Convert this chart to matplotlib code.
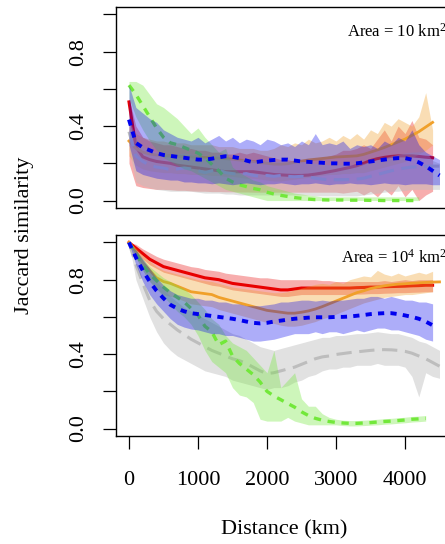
import numpy as np
import matplotlib
matplotlib.use("Agg")
import matplotlib.pyplot as plt

plt.rcParams['font.family'] = ['Liberation Serif', 'DejaVu Serif']
plt.rcParams['mathtext.fontset'] = 'custom'
plt.rcParams['mathtext.rm'] = 'Liberation Serif'
plt.rcParams['mathtext.default'] = 'regular'

nan = np.nan
distance = np.arange(0, 4600, 100)

# ---- top panel: Area = 10 km2 ----
t_red = [0.53, 0.29, 0.235, 0.22, 0.21, 0.205, 0.20, 0.19, 0.185, 0.18, 0.175, 0.17, 0.165, 0.16, 0.155, 0.155,
         0.155, 0.155, 0.155, 0.15, 0.145, 0.14, 0.138, 0.136, 0.135, 0.135, 0.137, 0.142, 0.148, 0.155, 0.162,
         0.17, 0.178, 0.187, 0.20, 0.215, 0.225, 0.232, 0.237, 0.24, 0.24, 0.24, 0.237, 0.233, 0.23, nan]
t_red_hi = [0.55, 0.40, 0.34, 0.32, 0.31, 0.30, 0.30, 0.29, 0.28, 0.28, 0.27, 0.27, 0.26, 0.26, 0.25, 0.25, 0.26,
            0.25, 0.26, 0.25, 0.24, 0.23, 0.22, 0.22, 0.21, 0.21, 0.22, 0.22, 0.23, 0.24, 0.25, 0.27, 0.27, 0.28,
            0.30, 0.28, 0.33, 0.38, 0.32, 0.40, 0.36, 0.43, 0.34, 0.33, 0.30, nan]
t_red_lo = [0.20, 0.08, 0.07, 0.065, 0.06, 0.06, 0.058, 0.055, 0.055, 0.052, 0.05, 0.05, 0.048, 0.048, 0.047,
            0.047, 0.046, 0.046, 0.045, 0.045, 0.045, 0.045, 0.045, 0.045, 0.045, 0.045, 0.045, 0.045, 0.045,
            0.045, 0.045, 0.04, 0.045, 0.05, 0.03, 0.05, 0.02, 0.06, 0.03, 0.08, 0.02, 0.06, 0.0, 0.03, 0.05, nan]

t_orange = [0.32, 0.28, 0.26, 0.25, 0.245, 0.24, 0.24, 0.238, 0.236, 0.235, 0.233, 0.232, 0.23, 0.228, 0.225,
            0.222, 0.218, 0.213, 0.21, 0.205, 0.20, 0.196, 0.195, 0.198, 0.205, 0.212, 0.218, 0.222, 0.226, 0.23,
            0.234, 0.236, 0.238, 0.24, 0.248, 0.26, 0.272, 0.285, 0.30, 0.315, 0.33, 0.35, 0.37, 0.395, 0.42, nan]
t_orange_hi = [0.40, 0.36, 0.34, 0.33, 0.32, 0.32, 0.31, 0.31, 0.31, 0.30, 0.30, 0.30, 0.30, 0.29, 0.29, 0.29,
               0.28, 0.28, 0.28, 0.27, 0.27, 0.28, 0.30, 0.29, 0.31, 0.30, 0.33, 0.31, 0.32, 0.34, 0.32, 0.35,
               0.33, 0.36, 0.33, 0.38, 0.36, 0.42, 0.40, 0.44, 0.42, 0.40, 0.45, 0.58, 0.38, nan]
t_orange_lo = [0.24, 0.19, 0.17, 0.16, 0.155, 0.15, 0.15, 0.145, 0.145, 0.14, 0.14, 0.14, 0.135, 0.135, 0.13,
               0.13, 0.125, 0.12, 0.12, 0.115, 0.11, 0.105, 0.105, 0.11, 0.115, 0.12, 0.125, 0.13, 0.135, 0.14,
               0.14, 0.145, 0.145, 0.15, 0.15, 0.16, 0.17, 0.18, 0.19, 0.20, 0.21, 0.23, 0.25, 0.27, 0.30, nan]

t_grey = [0.37, 0.24, 0.21, 0.19, 0.18, 0.175, 0.165, 0.17, 0.175, 0.17, 0.16, 0.15, 0.16, 0.165, 0.15, 0.145,
          0.14, 0.145, 0.135, 0.13, 0.135, 0.13, 0.135, 0.13, 0.128, 0.13, 0.128, 0.12, 0.115, 0.112, 0.112,
          0.112, 0.113, 0.115, 0.12, 0.13, 0.14, 0.15, 0.16, 0.168, 0.175, 0.18, 0.182, 0.184, 0.185, 0.185]
t_grey_hi = [0.45, 0.33, 0.29, 0.27, 0.26, 0.255, 0.245, 0.25, 0.255, 0.25, 0.24, 0.23, 0.24, 0.245, 0.23, 0.225,
             0.22, 0.225, 0.215, 0.21, 0.215, 0.21, 0.215, 0.21, 0.208, 0.21, 0.208, 0.20, 0.195, 0.192, 0.192,
             0.192, 0.193, 0.195, 0.20, 0.21, 0.22, 0.23, 0.24, 0.248, 0.255, 0.26, 0.262, 0.264, 0.215, 0.20]
t_grey_lo = [0.28, 0.10, 0.08, 0.07, 0.06, 0.055, 0.05, 0.05, 0.05, 0.05, 0.045, 0.04, 0.04, 0.04, 0.035, 0.035,
             0.03, 0.03, 0.03, 0.03, 0.03, 0.03, 0.03, 0.03, 0.03, 0.03, 0.03, 0.025, 0.025, 0.025, 0.025, 0.025,
             0.025, 0.025, 0.03, 0.035, 0.04, 0.045, 0.05, 0.05, 0.055, 0.06, 0.06, 0.06, 0.06, 0.06]

t_green = [0.62, 0.57, 0.51, 0.45, 0.39, 0.34, 0.31, 0.30, 0.285, 0.27, 0.255, 0.23, 0.195, 0.16, 0.12, 0.10,
           0.085, 0.075, 0.065, 0.058, 0.045, 0.035, 0.028, 0.022, 0.016, 0.012, 0.008, 0.005, 0.004, 0.003,
           0.003, 0.003, 0.002, 0.002, 0.002, 0.001, 0.001, 0.0, 0.0, 0.0, 0.0, 0.0, 0.0, nan, nan, nan]
t_green_hi = [0.64, 0.64, 0.62, 0.57, 0.52, 0.50, 0.47, 0.44, 0.40, 0.36, 0.39, 0.34, 0.30, 0.26, 0.28, 0.18,
              0.15, 0.13, 0.11, 0.10, 0.08, 0.07, 0.06, 0.05, 0.04, 0.035, 0.03, 0.025, 0.02, 0.02, 0.02, 0.02,
              0.02, 0.02, 0.02, 0.02, 0.02, 0.02, 0.02, 0.02, 0.02, 0.02, 0.02, nan, nan, nan]
t_green_lo = [0.55, 0.45, 0.38, 0.32, 0.27, 0.23, 0.21, 0.19, 0.17, 0.16, 0.14, 0.12, 0.10, 0.08, 0.06, 0.05,
              0.04, 0.03, 0.02, 0.01, 0.0, 0.0, 0.0, 0.0, 0.0, 0.0, 0.0, 0.0, 0.0, 0.0, 0.0, 0.0, 0.0, 0.0, 0.0,
              0.0, 0.0, 0.0, 0.0, 0.0, 0.0, 0.0, 0.0, nan, nan, nan]

t_blue = [0.435, 0.31, 0.285, 0.27, 0.255, 0.245, 0.24, 0.235, 0.23, 0.225, 0.22, 0.22, 0.225, 0.232, 0.238,
          0.235, 0.228, 0.215, 0.205, 0.21, 0.215, 0.218, 0.22, 0.22, 0.215, 0.21, 0.208, 0.205, 0.203, 0.20,
          0.20, 0.198, 0.198, 0.20, 0.205, 0.21, 0.215, 0.22, 0.225, 0.228, 0.228, 0.22, 0.205, 0.185, 0.16, 0.135]
t_blue_hi = [0.62, 0.50, 0.47, 0.44, 0.42, 0.38, 0.36, 0.34, 0.33, 0.32, 0.34, 0.31, 0.33, 0.35, 0.32, 0.34,
             0.31, 0.33, 0.32, 0.30, 0.33, 0.32, 0.30, 0.31, 0.29, 0.32, 0.30, 0.36, 0.30, 0.31, 0.30, 0.32,
             0.28, 0.30, 0.29, 0.30, 0.28, 0.32, 0.30, 0.34, 0.32, 0.38, 0.30, 0.26, 0.24, 0.22]
t_blue_lo = [0.30, 0.16, 0.14, 0.13, 0.12, 0.115, 0.11, 0.11, 0.10, 0.10, 0.095, 0.095, 0.09, 0.095, 0.09, 0.085,
             0.09, 0.095, 0.09, 0.085, 0.09, 0.09, 0.095, 0.09, 0.085, 0.09, 0.09, 0.095, 0.09, 0.085, 0.09,
             0.09, 0.095, 0.09, 0.09, 0.085, 0.09, 0.095, 0.09, 0.09, 0.085, 0.09, 0.09, 0.09, 0.085, 0.085]

# ---- bottom panel: Area = 10^4 km2 ----
b_red = [1.0, 0.97, 0.94, 0.91, 0.89, 0.87, 0.86, 0.85, 0.84, 0.83, 0.82, 0.81, 0.805, 0.80, 0.79, 0.78, 0.775,
         0.77, 0.765, 0.76, 0.755, 0.75, 0.745, 0.745, 0.75, 0.755, 0.755, 0.755, 0.755, 0.755, 0.755, 0.755,
         0.755, 0.757, 0.758, 0.76, 0.76, 0.762, 0.763, 0.764, 0.765, 0.767, 0.768, 0.77, 0.77, nan]
b_red_hi = [1.0, 0.99, 0.965, 0.945, 0.925, 0.91, 0.90, 0.89, 0.88, 0.87, 0.865, 0.855, 0.85, 0.845, 0.835, 0.83,
            0.825, 0.82, 0.815, 0.81, 0.81, 0.805, 0.80, 0.80, 0.80, 0.80, 0.80, 0.80, 0.795, 0.795, 0.79, 0.79,
            0.79, 0.79, 0.79, 0.79, 0.79, 0.795, 0.79, 0.795, 0.80, 0.795, 0.80, 0.80, 0.80, nan]
b_red_lo = [1.0, 0.95, 0.91, 0.88, 0.86, 0.84, 0.83, 0.82, 0.81, 0.80, 0.79, 0.78, 0.77, 0.765, 0.755, 0.745,
            0.74, 0.735, 0.73, 0.725, 0.72, 0.715, 0.71, 0.71, 0.715, 0.72, 0.72, 0.72, 0.72, 0.72, 0.72, 0.72,
            0.72, 0.722, 0.723, 0.725, 0.725, 0.727, 0.728, 0.73, 0.73, 0.732, 0.733, 0.735, 0.735, nan]

b_orange = [1.0, 0.95, 0.89, 0.85, 0.81, 0.79, 0.78, 0.765, 0.75, 0.735, 0.73, 0.725, 0.72, 0.705, 0.695, 0.685,
            0.675, 0.665, 0.655, 0.645, 0.635, 0.63, 0.625, 0.62, 0.62, 0.625, 0.632, 0.642, 0.655, 0.67, 0.685,
            0.70, 0.715, 0.73, 0.74, 0.752, 0.76, 0.767, 0.772, 0.776, 0.778, 0.781, 0.783, 0.785, 0.787, 0.788]
b_orange_hi = [1.0, 0.97, 0.93, 0.90, 0.87, 0.85, 0.84, 0.83, 0.82, 0.81, 0.80, 0.795, 0.79, 0.78, 0.77, 0.76,
               0.755, 0.75, 0.745, 0.74, 0.735, 0.73, 0.73, 0.735, 0.745, 0.755, 0.765, 0.775, 0.78, 0.775, 0.79,
               0.78, 0.80, 0.81, 0.82, 0.815, 0.85, 0.83, 0.82, 0.835, 0.82, 0.83, 0.84, 0.83, 0.845, nan]
b_orange_lo = [1.0, 0.92, 0.85, 0.79, 0.75, 0.72, 0.71, 0.70, 0.685, 0.67, 0.665, 0.66, 0.655, 0.64, 0.63, 0.62,
               0.61, 0.60, 0.59, 0.58, 0.57, 0.565, 0.555, 0.55, 0.55, 0.555, 0.565, 0.575, 0.59, 0.60, 0.615,
               0.63, 0.645, 0.66, 0.675, 0.685, 0.695, 0.705, 0.71, 0.715, 0.72, 0.72, 0.725, 0.73, 0.735, nan]

b_grey = [1.0, 0.88, 0.78, 0.69, 0.63, 0.59, 0.56, 0.53, 0.505, 0.48, 0.46, 0.44, 0.42, 0.405, 0.39, 0.375,
          0.365, 0.35, 0.33, 0.31, 0.295, 0.30, 0.31, 0.32, 0.33, 0.345, 0.36, 0.375, 0.385, 0.39, 0.398, 0.403,
          0.408, 0.412, 0.416, 0.42, 0.423, 0.424, 0.423, 0.42, 0.415, 0.405, 0.39, 0.375, 0.355, 0.335]
b_grey_hi = [1.0, 0.95, 0.90, 0.84, 0.79, 0.75, 0.71, 0.68, 0.65, 0.63, 0.61, 0.59, 0.57, 0.55, 0.53, 0.51, 0.50,
             0.48, 0.46, 0.44, 0.43, 0.42, 0.43, 0.44, 0.45, 0.46, 0.47, 0.48, 0.49, 0.49, 0.50, 0.50, 0.505,
             0.51, 0.51, 0.515, 0.52, 0.515, 0.51, 0.51, 0.50, 0.49, 0.47, 0.46, 0.44, 0.42]
b_grey_lo = [1.0, 0.80, 0.70, 0.60, 0.52, 0.46, 0.42, 0.39, 0.37, 0.35, 0.33, 0.31, 0.30, 0.29, 0.28, 0.26, 0.25,
             0.24, 0.23, 0.22, 0.21, 0.22, 0.22, 0.23, 0.25, 0.26, 0.28, 0.29, 0.31, 0.32, 0.32, 0.33, 0.33,
             0.34, 0.34, 0.34, 0.35, 0.34, 0.34, 0.34, 0.33, 0.28, 0.17, 0.30, 0.28, 0.27]

b_green = [1.0, 0.94, 0.88, 0.83, 0.795, 0.76, 0.73, 0.705, 0.68, 0.645, 0.61, 0.55, 0.52, 0.45, 0.47, 0.39,
           0.35, 0.32, 0.29, 0.25, 0.20, 0.175, 0.155, 0.135, 0.115, 0.09, 0.07, 0.055, 0.045, 0.038, 0.033,
           0.03, 0.028, 0.028, 0.03, 0.032, 0.035, 0.038, 0.04, 0.043, 0.046, 0.05, 0.052, 0.055, nan, nan]
b_green_hi = [1.0, 0.96, 0.91, 0.87, 0.84, 0.81, 0.79, 0.77, 0.75, 0.72, 0.68, 0.64, 0.59, 0.56, 0.50, 0.46,
              0.44, 0.42, 0.38, 0.34, 0.30, 0.42, 0.22, 0.26, 0.30, 0.16, 0.12, 0.12, 0.08, 0.06, 0.05, 0.045,
              0.043, 0.043, 0.045, 0.047, 0.05, 0.053, 0.055, 0.058, 0.061, 0.065, 0.067, 0.07, nan, nan]
b_green_lo = [1.0, 0.92, 0.85, 0.79, 0.75, 0.71, 0.67, 0.63, 0.60, 0.56, 0.50, 0.42, 0.36, 0.33, 0.30, 0.22,
              0.18, 0.17, 0.14, 0.05, 0.04, 0.04, 0.04, 0.06, 0.04, 0.03, 0.02, 0.02, 0.02, 0.02, 0.02, 0.016,
              0.014, 0.014, 0.016, 0.018, 0.02, 0.023, 0.025, 0.028, 0.031, 0.035, 0.037, 0.04, nan, nan]

b_blue = [1.0, 0.92, 0.85, 0.79, 0.74, 0.70, 0.665, 0.645, 0.63, 0.62, 0.615, 0.61, 0.605, 0.60, 0.595, 0.59,
          0.583, 0.575, 0.568, 0.565, 0.568, 0.575, 0.58, 0.585, 0.59, 0.593, 0.596, 0.598, 0.598, 0.598, 0.60,
          0.60, 0.602, 0.606, 0.61, 0.615, 0.618, 0.62, 0.62, 0.615, 0.608, 0.60, 0.59, 0.575, 0.555, nan]
b_blue_hi = [1.0, 0.96, 0.91, 0.86, 0.81, 0.77, 0.74, 0.72, 0.71, 0.70, 0.70, 0.69, 0.69, 0.68, 0.68, 0.67, 0.67,
             0.66, 0.66, 0.66, 0.665, 0.67, 0.68, 0.68, 0.685, 0.69, 0.69, 0.685, 0.69, 0.685, 0.69, 0.69,
             0.695, 0.70, 0.70, 0.71, 0.71, 0.70, 0.71, 0.70, 0.69, 0.69, 0.68, 0.68, 0.67, nan]
b_blue_lo = [1.0, 0.88, 0.79, 0.72, 0.67, 0.63, 0.59, 0.56, 0.545, 0.535, 0.53, 0.52, 0.51, 0.51, 0.50, 0.50,
             0.49, 0.48, 0.47, 0.47, 0.475, 0.48, 0.49, 0.50, 0.51, 0.51, 0.51, 0.52, 0.51, 0.52, 0.52, 0.51,
             0.52, 0.53, 0.52, 0.53, 0.54, 0.54, 0.53, 0.53, 0.52, 0.51, 0.50, 0.48, 0.47, nan]

yticks = [0.0, 0.2, 0.4, 0.6, 0.8, 1.0]
ytick_labels = ["0.0", "", "0.4", "", "0.8", ""]
xticks = [0, 1000, 2000, 3000, 4000]

# colour, line style, linewidth, band alpha
styles = {
    'red': ('#e80000', '-', 2.2, 0.32),
    'orange': ('#f0a02a', '-', 2.0, 0.35),
    'grey': ('#bdbdbd', (0, (5, 2.5)), 2.2, 0.45),
    'green': ('#72e83a', (0, (2.2, 2.0)), 2.4, 0.35),
    'blue': ('#0000ee', (0, (1.6, 1.6)), 2.8, 0.32),
}

top_series = [('red', t_red, t_red_lo, t_red_hi), ('orange', t_orange, t_orange_lo, t_orange_hi),
              ('grey', t_grey, t_grey_lo, t_grey_hi), ('green', t_green, t_green_lo, t_green_hi),
              ('blue', t_blue, t_blue_lo, t_blue_hi)]
bottom_series = [('red', b_red, b_red_lo, b_red_hi), ('orange', b_orange, b_orange_lo, b_orange_hi),
                 ('grey', b_grey, b_grey_lo, b_grey_hi), ('green', b_green, b_green_lo, b_green_hi),
                 ('blue', b_blue, b_blue_lo, b_blue_hi)]

W, H = 445, 544
fig = plt.figure(figsize=(W / 100, H / 100), dpi=100)
ax_top = fig.add_axes([116 / W, 1 - 208 / H, 350 / W, 201 / H])
ax_bot = fig.add_axes([116 / W, 1 - 436 / H, 350 / W, 201 / H])


def draw_panel(ax, series):
    z = 1
    for name, line, lo, hi in series:
        color, ls, lw, alpha = styles[name]
        lo = np.array(lo, dtype=float)
        hi = np.array(hi, dtype=float)
        ok = ~np.isnan(lo)
        ax.fill_between(distance[ok], lo[ok], hi[ok], color=color, alpha=alpha, lw=0, zorder=z)
        ax.plot(distance, line, color=color, ls=ls, lw=lw, zorder=z + 1)
        z += 2
    ax.set_xlim(-188, 4884)
    ax.set_ylim(-0.04, 1.04)
    ax.set_yticks(yticks)
    ax.set_yticklabels(ytick_labels, rotation=90, va='center', fontsize=16)
    ax.tick_params(axis='y', direction='out', length=9.4, width=0.9, pad=11)
    for s in ax.spines.values():
        s.set_linewidth(1.0)


draw_panel(ax_top, top_series)
draw_panel(ax_bot, bottom_series)

ax_top.tick_params(axis='x', bottom=False, labelbottom=False)
ax_bot.set_xticks(xticks)
ax_bot.set_xticklabels([str(v) for v in xticks], fontsize=16)
ax_bot.tick_params(axis='x', direction='out', length=9.4, width=0.9, pad=16)

ax_top.text(3159, 0.906, "Area = 10 km$^{2}$", fontsize=12, ha='left', va='center')
ax_bot.text(3068, 0.917, "Area = 10$^{4}$ km$^{2}$", fontsize=12, ha='left', va='center')

fig.text(25 / W, 1 - 235 / H, "Jaccard similarity", rotation=90, ha='center', va='center', fontsize=16)
fig.text(284 / W, 1 - 530 / H, "Distance (km)", ha='center', va='center', fontsize=16)

fig.savefig("out.png", dpi=100)
